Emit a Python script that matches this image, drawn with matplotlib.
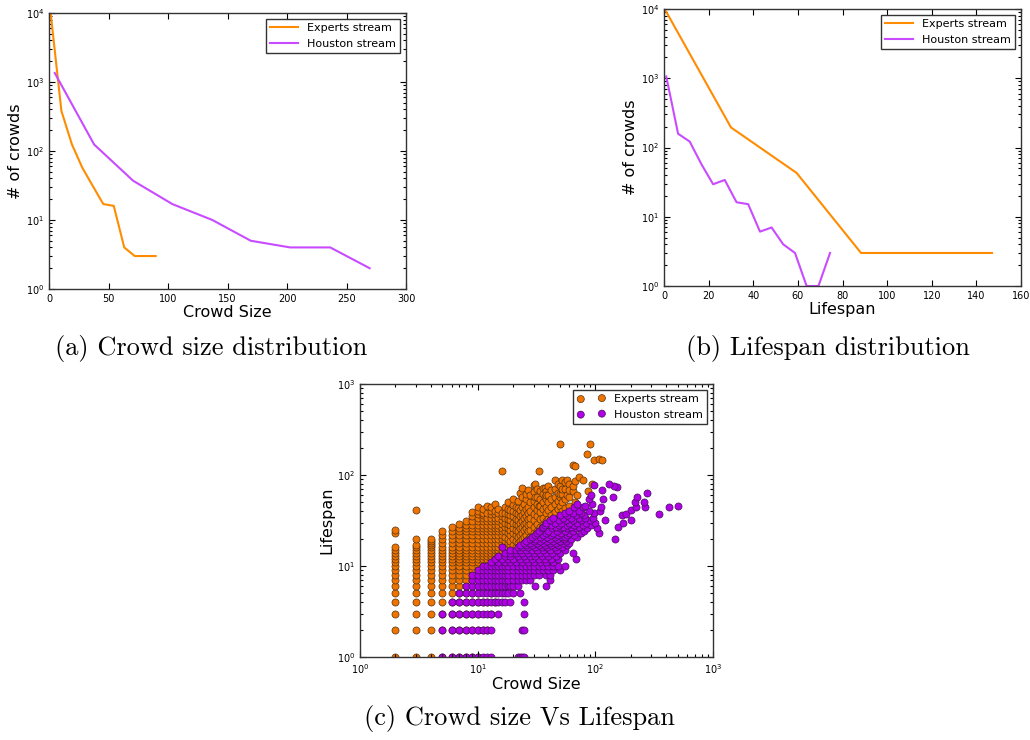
import matplotlib
matplotlib.use("Agg")
import matplotlib.pyplot as plt

# (a) crowd size distribution
size_exp_x = [1.5, 10.4, 19.2, 28.0, 36.8, 45.6, 54.4, 63.2, 72.0, 80.8, 89.6]
size_exp_y = [9500, 380, 125, 57, 31, 17, 16, 4, 3, 3, 3]
size_hou_x = [4.8, 37.9, 70.7, 103.6, 137.2, 169.5, 202.6, 236.3, 269.4]
size_hou_y = [1350, 124, 37, 17, 10, 5, 4, 4, 2]

# (b) lifespan distribution
life_exp_x = [0.6, 30.0, 59.4, 88.3, 117.7, 147.0]
life_exp_y = [9600, 195, 43, 3, 3, 3]
life_hou_x = [1.0, 6.3, 11.5, 16.8, 22.0, 27.2, 32.5, 37.7, 43.0, 48.2,
              53.4, 58.7, 63.9, 69.2, 74.4]
life_hou_y = [1060, 158, 122, 57, 29.5, 34, 16.2, 15.2, 6.1, 7, 4, 3, 1, 1, 3]

# (c) experts stream: crowd size -> lifespans seen at that size
exp_size = [2, 3, 4, 5, 6, 7, 8, 9, 10, 11, 12, 13, 14, 15, 16,
            17, 18, 19, 20, 21, 22, 23, 24, 25, 26, 27, 28, 30, 31, 32, 33,
            34, 36, 37, 38, 40, 42, 45, 48, 50, 52, 55, 57, 60, 64, 67, 70,
            73, 79, 85, 86, 91, 94, 98, 108, 114]
exp_life = [
    [1, 2, 3, 4, 5, 6, 7, 8, 9, 10, 11, 12, 13, 14, 15, 16, 23, 25],
    [1, 2, 3, 4, 5, 6, 7, 8, 9, 10, 11, 12, 13, 14, 15, 16, 17, 20, 41],
    [1, 2, 3, 4, 5, 6, 7, 8, 9, 10, 11, 12, 13, 14, 15, 16, 17, 18, 19, 20],
    [1, 2, 3, 4, 5, 6, 7, 8, 9, 10, 11, 12, 13, 14, 15, 16, 18, 20, 22, 24],
    [1, 2, 3, 4, 5, 6, 7, 8, 9, 10, 11, 12, 13, 14, 15, 16, 18, 20, 22, 24, 27],
    [1, 2, 3, 4, 5, 6, 7, 8, 9, 10, 11, 12, 13, 14, 15, 16, 18, 20, 22, 24, 26, 29],
    [1, 2, 3, 4, 5, 6, 7, 8, 9, 10, 11, 12, 13, 14, 15, 16, 18, 20, 22, 24, 26, 28, 31],
    [1, 2, 3, 4, 5, 6, 7, 8, 9, 10, 11, 12, 13, 14, 15, 16, 18, 20, 22, 24, 26, 28, 31, 35, 39],
    [1, 2, 3, 4, 5, 6, 7, 8, 9, 10, 11, 12, 13, 14, 15, 16, 18, 20, 22, 24, 26, 28, 31, 34, 37, 40, 45],
    [2, 4, 6, 8, 9, 10, 11, 12, 13, 14, 15, 16, 18, 20, 22, 24, 26, 28, 31, 34, 36, 38, 42],
    [2, 4, 6, 8, 9, 10, 11, 12, 13, 14, 15, 16, 18, 20, 22, 24, 26, 28, 31, 34, 38, 46],
    [3, 5, 7, 9, 10, 11, 12, 13, 14, 15, 16, 18, 20, 22, 24, 26, 28, 31, 34, 37, 40, 44],
    [4, 6, 8, 10, 11, 12, 13, 14, 15, 16, 18, 20, 22, 24, 26, 28, 31, 34, 37, 40, 48],
    [6, 8, 10, 11, 12, 13, 14, 15, 16, 18, 20, 22, 24, 26, 28, 31, 34, 38, 42],
    [8, 10, 11, 12, 13, 14, 15, 16, 18, 20, 22, 24, 26, 29, 32, 35, 38, 112],
    [9, 11, 13, 15, 17, 19, 21, 24, 27, 30, 34, 38, 44],
    [10, 12, 14, 16, 18, 20, 23, 26, 29, 33, 37, 42, 50],
    [11, 13, 15, 17, 19, 22, 25, 28, 32, 36, 41],
    [11, 13, 15, 17, 20, 23, 26, 30, 35, 40, 47, 55],
    [12, 14, 16, 19, 22, 25, 29, 33, 38, 45],
    [13, 15, 18, 21, 24, 28, 32, 37, 43, 52],
    [13, 16, 19, 22, 26, 30, 35, 41, 64],
    [14, 17, 20, 23, 27, 31, 36, 44, 58, 72],
    [15, 18, 21, 25, 29, 34, 39, 48],
    [16, 19, 22, 26, 30, 35, 42, 55, 62],
    [17, 20, 24, 28, 33, 38, 45, 68],
    [18, 21, 25, 29, 34, 40, 50, 60],
    [19, 23, 27, 32, 37, 44, 52, 65, 78],
    [80, 58],
    [20, 24, 29, 35, 41, 48, 58, 70],
    [112, 46],
    [22, 27, 33, 39, 46, 55, 66],
    [23, 28, 34, 42, 50, 62, 72],
    [72, 57],
    [25, 31, 38, 45, 55, 66, 60],
    [26, 33, 41, 50, 60, 75],
    [28, 36, 44, 54, 68],
    [30, 39, 48, 58, 87, 70],
    [33, 42, 52, 64, 80],
    [220, 36, 46, 57, 75, 62],
    [40, 50, 62, 88, 70],
    [43, 55, 70, 83],
    [87, 60],
    [46, 58, 80, 68],
    [129, 66, 75],
    [127, 50, 85],
    [60],
    [94],
    [88],
    [172],
    [66],
    [218],
    [80],
    [146],
    [150],
    [146],
]

# (c) houston stream: lifespan -> crowd sizes seen with that lifespan
hou_life = [1, 2, 3, 4, 5, 6, 7, 8, 9, 10, 11, 12, 13, 14, 15, 16, 17, 18,
            19, 20, 21, 22, 23, 24, 26, 27, 28, 30, 32, 34, 36, 37, 38, 40,
            41, 44, 45, 46, 48, 51, 55, 57, 61, 64, 69, 73, 76, 77, 79]
hou_size = [
    [5, 6, 7, 8, 9, 10, 11, 12, 13, 22, 23, 24, 25],
    [5, 6, 7, 8, 9, 10, 11, 12, 13, 24, 25],
    [5, 6, 7, 8, 9, 10, 11, 12, 13, 15, 25],
    [6, 7, 8, 9, 10, 11, 12, 13, 14, 15, 16, 17, 19, 25],
    [7, 8, 9, 10, 11, 12, 13, 14, 15, 16, 17, 18, 20, 23],
    [8, 9, 10, 11, 12, 13, 14, 15, 16, 17, 18, 19, 20, 22, 31, 38],
    [9, 10, 11, 12, 13, 14, 15, 16, 17, 18, 20, 22, 24, 26, 28, 41],
    [9, 10, 11, 12, 13, 14, 15, 16, 17, 18, 20, 22, 24, 26, 28, 30, 33, 38, 41],
    [10, 11, 12, 13, 14, 15, 16, 17, 18, 20, 22, 24, 26, 28, 30, 33, 36, 40, 44, 50],
    [11, 12, 13, 14, 15, 16, 17, 18, 20, 22, 24, 26, 28, 30, 33, 36, 40, 44, 48, 55],
    [13, 15, 17, 19, 21, 24, 27, 30, 34, 38, 44],
    [14, 16, 18, 20, 23, 26, 29, 33, 37, 42, 48, 69],
    [15, 17, 19, 22, 25, 28, 31, 35, 40, 46],
    [17, 19, 21, 24, 27, 30, 34, 38, 43, 50, 65],
    [19, 21, 23, 26, 29, 32, 36, 41, 47, 55],
    [16, 22, 24, 27, 31, 35, 39, 45, 52],
    [23, 26, 29, 33, 37, 42, 48, 58],
    [25, 28, 32, 36, 41, 46, 53, 60],
    [26, 30, 34, 39, 44, 50, 56],
    [28, 31, 36, 41, 47, 54, 62, 146],
    [29, 34, 39, 45, 52, 55, 70],
    [31, 36, 42, 48, 58, 66],
    [32, 38, 44, 51, 60, 75, 108],
    [33, 40, 47, 55, 64, 80],
    [35, 43, 50, 58, 68, 85, 104],
    [36, 46, 53, 62, 72, 156],
    [37, 42, 49, 57, 66, 78, 92],
    [38, 45, 51, 60, 70, 84, 100, 172],
    [41, 49, 56, 65, 76, 90, 122, 200],
    [44, 53, 62, 72, 82, 95],
    [50, 58, 68, 80, 170],
    [348, 184],
    [55, 64, 75, 98],
    [60, 72, 88, 110],
    [200],
    [66, 78, 111, 220],
    [265, 424],
    [505, 82],
    [70, 94],
    [216, 259],
    [88, 116],
    [141, 228],
    [92],
    [275],
    [115],
    [152],
    [143],
    [98],
    [130],
]

EXP_LINE = "#FF8C00"
HOU_LINE = "#C84BFF"
EXP_DOT = "#EE7300"
HOU_DOT = "#B000E6"

plt.rcParams["font.family"] = ["DejaVu Sans"]
plt.rcParams["mathtext.default"] = "regular"


def style_axes(ax):
    ax.tick_params(which="both", direction="in", top=True, right=True,
                   labelsize=7, width=0.8)
    ax.tick_params(which="major", length=4)
    ax.tick_params(which="minor", length=2)
    for sp in ax.spines.values():
        sp.set_linewidth(1.0)
        sp.set_color("#333333")


fig = plt.figure(figsize=(10.3, 7.4), dpi=100)

ax1 = fig.add_axes([0.0476, 0.6095, 0.3466, 0.3730])
ax1.plot(size_exp_x, size_exp_y, color=EXP_LINE, lw=1.5, label="Experts stream")
ax1.plot(size_hou_x, size_hou_y, color=HOU_LINE, lw=1.5, label="Houston stream")
ax1.set_yscale("log")
ax1.set_xlim(0, 300)
ax1.set_ylim(1, 1e4)
ax1.set_xlabel("Crowd Size", fontsize=11.5, labelpad=1)
ax1.set_ylabel("# of crowds", fontsize=11.5, labelpad=2)
style_axes(ax1)
ax1.legend(loc="upper right", fontsize=8, fancybox=False, edgecolor="#333333",
           framealpha=1, handlelength=2.5)

ax2 = fig.add_axes([0.6447, 0.6135, 0.3466, 0.3743])
ax2.plot(life_exp_x, life_exp_y, color=EXP_LINE, lw=1.5, label="Experts stream")
ax2.plot(life_hou_x, life_hou_y, color=HOU_LINE, lw=1.5, label="Houston stream")
ax2.set_yscale("log")
ax2.set_xlim(0, 160)
ax2.set_ylim(1, 1e4)
ax2.set_xlabel("Lifespan", fontsize=11.5, labelpad=1)
ax2.set_ylabel("# of crowds", fontsize=11.5, labelpad=2)
style_axes(ax2)
ax2.legend(loc="upper right", fontsize=8, fancybox=False, edgecolor="#333333",
           framealpha=1, handlelength=2.5)

# flatten the scatter lists
ex, ey = [], []
for s, lives in zip(exp_size, exp_life):
    for v in lives:
        ex.append(s)
        ey.append(v)
hx, hy = [], []
for v, sizes in zip(hou_life, hou_size):
    for s in sizes:
        hx.append(s)
        hy.append(v)

ax3 = fig.add_axes([0.3495, 0.1122, 0.3427, 0.3689])
ax3.scatter(ex, ey, s=26, c=EXP_DOT, edgecolors="#553311", linewidths=0.5,
            label="Experts stream")
ax3.scatter(hx, hy, s=26, c=HOU_DOT, edgecolors="#441155", linewidths=0.5,
            label="Houston stream")
ax3.set_xscale("log")
ax3.set_yscale("log")
ax3.set_xlim(1, 1000)
ax3.set_ylim(1, 1000)
ax3.set_xlabel("Crowd Size", fontsize=11.5, labelpad=1)
ax3.set_ylabel("Lifespan", fontsize=11.5, labelpad=2)
style_axes(ax3)
ax3.legend(loc="upper right", fontsize=8, fancybox=False, edgecolor="#333333",
           framealpha=1, scatterpoints=2, handlelength=2.5)

cap = dict(fontsize=19, family="cmr10", ha="center", va="center")
fig.text(211 / 1030, 1 - 348 / 740, "(a) Crowd size distribution", **cap)
fig.text(828 / 1030, 1 - 348 / 740, "(b) Lifespan distribution", **cap)
fig.text(519 / 1030, 1 - 718 / 740, "(c) Crowd size Vs Lifespan", **cap)

fig.savefig("out.png", dpi=100)
